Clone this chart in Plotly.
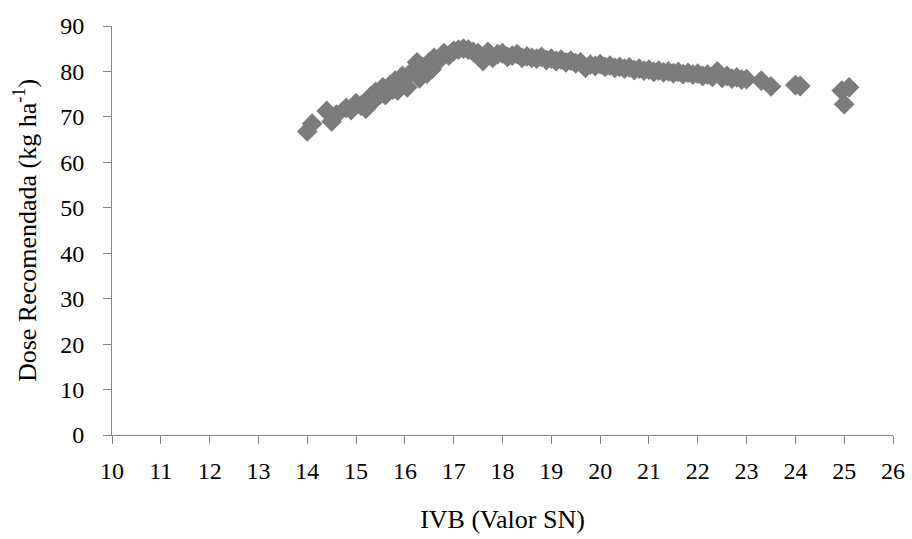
import plotly.graph_objects as go

ivb = [14.0, 14.1, 14.4, 14.5, 14.6, 14.8, 14.9, 15.0, 15.1, 15.2, 15.3, 15.35, 15.4, 15.5,
       15.55, 15.6, 15.7, 15.75, 15.8, 15.85, 15.9, 15.95, 16.0, 16.05, 16.1, 16.2, 16.25,
       16.3, 16.4, 16.45, 16.5, 16.55, 16.6, 16.7, 16.8, 16.9, 17.0, 17.1, 17.2, 17.3, 17.4,
       17.5, 17.6, 17.65, 17.7, 17.8, 17.9, 18.0, 18.1, 18.2, 18.3, 18.4, 18.5, 18.6, 18.7,
       18.8, 18.9, 19.0, 19.1, 19.2, 19.3, 19.4, 19.5, 19.6, 19.7, 19.8, 19.9, 20.0, 20.1,
       20.2, 20.3, 20.4, 20.5, 20.6, 20.7, 20.8, 20.9, 21.0, 21.1, 21.2, 21.3, 21.4, 21.5,
       21.6, 21.7, 21.8, 21.9, 22.0, 22.1, 22.2, 22.3, 22.4, 22.5, 22.6, 22.7, 22.8, 22.9,
       23.0, 23.3, 23.5, 24.0, 24.1, 24.95, 25.0, 25.1]
dose = [66.8, 68.5, 71.3, 69.0, 70.5, 72.0, 71.5, 73.0, 72.5, 71.8, 74.5, 73.5, 75.5, 75.0,
        76.5, 74.8, 77.0, 76.0, 78.0, 75.8, 77.5, 79.0, 78.5, 76.5, 79.5, 80.0, 82.0,
        78.5, 81.0, 79.5, 82.0, 80.5, 83.0, 82.5, 84.0, 83.5, 84.5, 84.8, 85.0, 84.8, 84.3,
        84.0, 82.3, 83.5, 84.3, 83.0, 83.8, 84.0, 83.2, 83.5, 83.8, 83.0, 83.3, 83.0, 82.8,
        83.2, 82.5, 82.8, 82.3, 82.6, 82.0, 82.4, 81.8, 82.0, 80.8, 81.5, 81.2, 81.6, 81.0,
        81.3, 80.8, 81.0, 80.6, 80.9, 80.3, 80.6, 80.2, 80.4, 79.9, 80.2, 79.8, 80.0, 79.6,
        79.9, 79.4, 79.7, 79.3, 79.5, 79.0, 79.3, 78.8, 80.0, 78.6, 79.0, 78.4, 78.7, 78.2,
        78.3, 78.0, 76.7, 77.0, 76.8, 75.8, 72.8, 76.5]

x_ticks = list(range(10, 27))
y_ticks = list(range(0, 91, 10))

font_family = "Liberation Serif"
axis_color = "#868686"

fig = go.Figure()
fig.add_trace(go.Scatter(
    x=ivb, y=dose, mode="markers",
    marker=dict(symbol="diamond", size=16, color="#7c7c7c", line=dict(width=0)),
    showlegend=False,
))

fig.update_layout(
    width=912, height=539,
    margin=dict(l=112, r=19, t=26, b=104),
    paper_bgcolor="white", plot_bgcolor="white",
    font=dict(family=font_family, color="#000000", size=24),
    xaxis=dict(
        range=[10, 26], tickmode="array", tickvals=x_ticks,
        ticks="outside", ticklen=8, tickcolor=axis_color, tickwidth=1,
        showline=True, linecolor=axis_color, linewidth=1,
        showgrid=False, zeroline=False, automargin=False,
        tickfont=dict(family=font_family, size=24), ticklabelstandoff=6,
        title=dict(text="IVB (Valor SN)", font=dict(family=font_family, size=26), standoff=27),
    ),
    yaxis=dict(
        range=[0, 90], tickmode="array", tickvals=y_ticks,
        ticks="outside", ticklen=8, tickcolor=axis_color, tickwidth=1,
        showline=True, linecolor=axis_color, linewidth=1,
        showgrid=False, zeroline=False, automargin=False,
        tickfont=dict(family=font_family, size=24), ticklabelstandoff=14,
        title=dict(text="Dose Recomendada (kg ha<sup>-1</sup>)",
                   font=dict(family=font_family, size=26), standoff=16),
    ),
)

fig.write_html("out.html")
